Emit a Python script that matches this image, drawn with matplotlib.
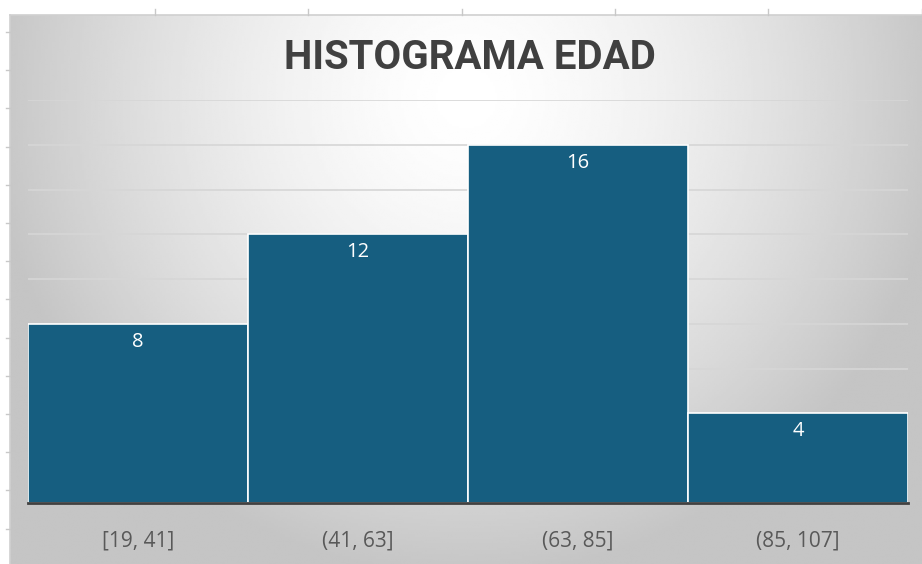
import numpy as np
import matplotlib.pyplot as plt
from matplotlib.lines import Line2D

# datos del histograma
intervalos = ['[19, 41]', '(41, 63]', '(63, 85]', '(85, 107]']
frecuencias = [8, 12, 16, 4]
titulo = 'HISTOGRAMA EDAD'

W, H = 922, 564
fig = plt.figure(figsize=(W / 100, H / 100), dpi=100)
fig.patch.set_facecolor('white')

# fondo del area del grafico con degradado radial (estilo Excel)
x0, y0 = 10, 15
bg = fig.add_axes([x0 / W, 0, (W - x0) / W, (H - y0) / H])
gx, gy = np.meshgrid(np.linspace(0, 1, 400), np.linspace(0, 1, 250))
r = np.sqrt(((gx - 0.5) / 0.6) ** 2 + ((gy - 0.15) / 1.0) ** 2)
val = np.clip(1.0 - 0.28 * r ** 1.5, 0.77, 1.0)
bg.imshow(val, cmap='gray', vmin=0, vmax=1, aspect='auto',
          extent=[0, 1, 1, 0], interpolation='bilinear')
bg.set_xlim(0, 1)
bg.set_ylim(1, 0)
bg.axis('off')

# borde y marcas de la hoja de calculo
fig.add_artist(Line2D([x0 / W, 1], [1 - y0 / H, 1 - y0 / H], color='#d0d0d0', lw=1.2))
fig.add_artist(Line2D([x0 / W, x0 / W], [0, 1 - y0 / H], color='#d0d0d0', lw=1.2))
for xt in np.arange(155, W, 153.3):
    fig.add_artist(Line2D([xt / W, xt / W], [1 - 9 / H, 1 - y0 / H], color='#c8c8c8', lw=1))
for yt in np.arange(32, H, 38.2):
    fig.add_artist(Line2D([6 / W, x0 / W], [1 - yt / H, 1 - yt / H], color='#c8c8c8', lw=1))

# area de trazado
left, right, base, top = 28, 908, 503, 100
ax = fig.add_axes([left / W, (H - base) / H, (right - left) / W, (base - top) / H])
ax.set_facecolor('none')
x = np.arange(len(intervalos))
barras = ax.bar(x, frecuencias, width=1.0, color='#165e80', edgecolor='white',
                linewidth=1.2, zorder=2)
ax.set_xlim(-0.5, len(intervalos) - 0.5)
ax.set_ylim(0, 18)
ax.set_yticks(np.arange(2, 19, 2))
ax.yaxis.grid(True, color='#d6d6d6', lw=1.2, zorder=0)
ax.set_axisbelow(True)
ax.tick_params(axis='y', left=False, labelleft=False)
ax.set_xticks(x)
ax.set_xticklabels(intervalos, fontsize=15, color='#595959', family='Open Sans')
ax.tick_params(axis='x', bottom=False, pad=16)
for s in ['top', 'left', 'right']:
    ax.spines[s].set_visible(False)
ax.spines['bottom'].set_color('#404040')
ax.spines['bottom'].set_linewidth(2)
ax.spines['bottom'].set_zorder(3)

for b, v in zip(barras, frecuencias):
    ax.annotate(str(v), (b.get_x() + b.get_width() / 2, v), xytext=(0, -18),
                textcoords='offset pixels', ha='center', va='center',
                color='white', fontsize=14.5, family='Open Sans')

fig.text(470 / W, 1 - 58 / H, titulo, ha='center', va='center', fontsize=29,
         fontweight='bold', color='#404040', family='Roboto')

fig.savefig('out.png', dpi=100)
